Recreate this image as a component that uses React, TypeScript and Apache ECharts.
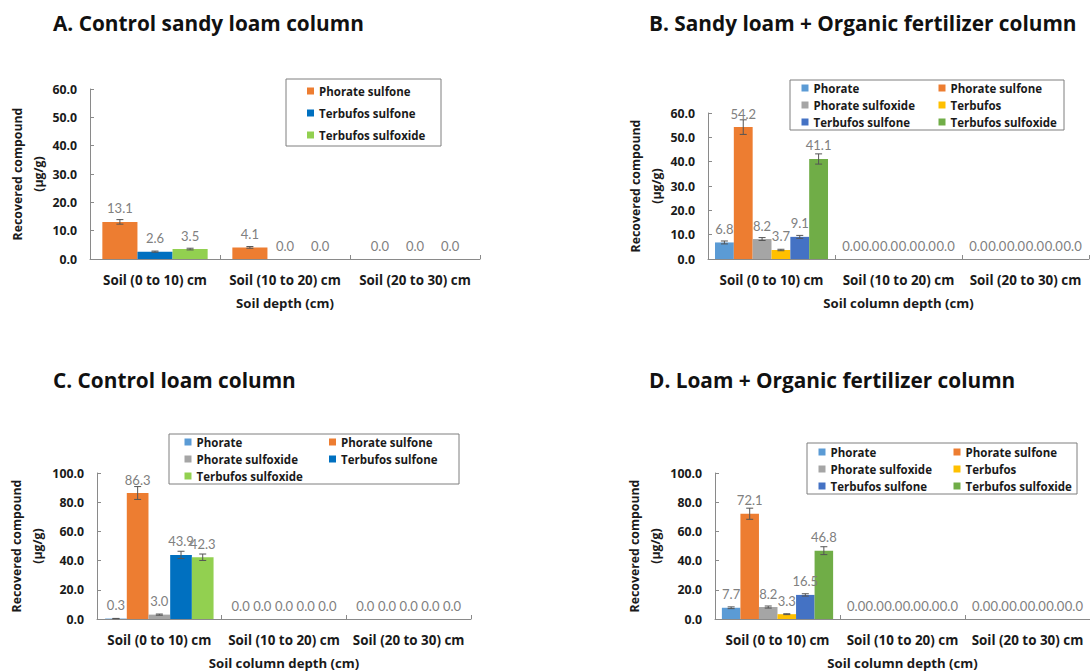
import React, { useEffect, useRef } from "react";
import * as echarts from "echarts";

const categories = ["Soil (0 to 10) cm", "Soil (10 to 20) cm", "Soil (20 to 30) cm"];

// Panel A – Control sandy loam column
const aTitle = "A. Control sandy loam column";
const aNames = ["Phorate sulfone", "Terbufos sulfone", "Terbufos sulfoxide"];
const aColors = ["#ED7D31", "#0070C0", "#92D050"];
const aValues = [
  [13.1, 4.1, 0.0],
  [2.6, 0.0, 0.0],
  [3.5, 0.0, 0.0],
];
const aErrors = [
  [0.8, 0.3, 0],
  [0.2, 0, 0],
  [0.3, 0, 0],
];

// Panel B – Sandy loam + Organic fertilizer column
const bTitle = "B. Sandy loam + Organic fertilizer column";
const bNames = ["Phorate", "Phorate sulfone", "Phorate sulfoxide", "Terbufos", "Terbufos sulfone", "Terbufos sulfoxide"];
const bColors = ["#5B9BD5", "#ED7D31", "#A5A5A5", "#FFC000", "#4472C4", "#70AD47"];
const bValues = [
  [6.8, 0.0, 0.0],
  [54.2, 0.0, 0.0],
  [8.2, 0.0, 0.0],
  [3.7, 0.0, 0.0],
  [9.1, 0.0, 0.0],
  [41.1, 0.0, 0.0],
];
const bErrors = [
  [0.6, 0, 0],
  [3.0, 0, 0],
  [0.6, 0, 0],
  [0.3, 0, 0],
  [0.6, 0, 0],
  [2.1, 0, 0],
];

// Panel C – Control loam column
const cTitle = "C. Control loam column";
const cNames = ["Phorate", "Phorate sulfone", "Phorate sulfoxide", "Terbufos sulfone", "Terbufos sulfoxide"];
const cColors = ["#5B9BD5", "#ED7D31", "#A5A5A5", "#0070C0", "#92D050"];
const cValues = [
  [0.3, 0.0, 0.0],
  [86.3, 0.0, 0.0],
  [3.0, 0.0, 0.0],
  [43.9, 0.0, 0.0],
  [42.3, 0.0, 0.0],
];
const cErrors = [
  [0.1, 0, 0],
  [4.4, 0, 0],
  [0.4, 0, 0],
  [2.5, 0, 0],
  [2.2, 0, 0],
];

// Panel D – Loam + Organic fertilizer column
const dTitle = "D. Loam + Organic fertilizer column";
const dNames = ["Phorate", "Phorate sulfone", "Phorate sulfoxide", "Terbufos", "Terbufos sulfone", "Terbufos sulfoxide"];
const dColors = ["#5B9BD5", "#ED7D31", "#A5A5A5", "#FFC000", "#4472C4", "#70AD47"];
const dValues = [
  [7.7, 0.0, 0.0],
  [72.1, 0.0, 0.0],
  [8.2, 0.0, 0.0],
  [3.3, 0.0, 0.0],
  [16.5, 0.0, 0.0],
  [46.8, 0.0, 0.0],
];
const dErrors = [
  [0.6, 0, 0],
  [3.8, 0, 0],
  [0.7, 0, 0],
  [0.3, 0, 0],
  [0.8, 0, 0],
  [2.7, 0, 0],
];

const yName = "Recovered compound\n(µg/g)";
const BOLD_FONT = "Open Sans";
const LABEL_FONT = "Lato";
const AXIS_COLOR = "#8a8a8a";
const TEXT_COLOR = "#1a1a1a";

type Panel = {
  key: string;
  title: string;
  titlePos: [number, number];
  names: string[];
  colors: string[];
  values: number[][];
  errors: number[][];
  max: number;
  interval: number;
  xName: string;
  grid: { left: number; top: number; width: number; height: number };
  gap: number;
  yNameGap: number;
  legendCols: number[][];
  legendPos: [number, number][];
  legendItemGap: number;
  box: [number, number, number, number];
};

const panels: Panel[] = [
  {
    key: "A", title: aTitle, titlePos: [53, 23], names: aNames, colors: aColors, values: aValues, errors: aErrors,
    max: 60, interval: 10, xName: "Soil depth (cm)",
    grid: { left: 90, top: 89, width: 390, height: 170 }, gap: 0.19, yNameGap: 38,
    legendCols: [[0, 1, 2]], legendPos: [[307, 84]], legendItemGap: 8, box: [286, 79, 155, 67],
  },
  {
    key: "B", title: bTitle, titlePos: [649, 23], names: bNames, colors: bColors, values: bValues, errors: bErrors,
    max: 60, interval: 10, xName: "Soil column depth (cm)",
    grid: { left: 708, top: 113, width: 381, height: 146 }, gap: 0.11, yNameGap: 41,
    legendCols: [[0, 2, 4], [1, 3, 5]], legendPos: [[801.5, 81], [938.5, 81]], legendItemGap: 3, box: [790, 80, 274, 50],
  },
  {
    key: "C", title: cTitle, titlePos: [53, 380], names: cNames, colors: cColors, values: cValues, errors: cErrors,
    max: 100, interval: 20, xName: "Soil column depth (cm)",
    grid: { left: 97, top: 473, width: 374, height: 146 }, gap: 0.13, yNameGap: 46,
    legendCols: [[0, 2, 4], [1, 3]], legendPos: [[184.5, 435], [329, 435]], legendItemGap: 3, box: [169, 434, 290, 50],
  },
  {
    key: "D", title: dTitle, titlePos: [649, 380], names: dNames, colors: dColors, values: dValues, errors: dErrors,
    max: 100, interval: 20, xName: "Soil column depth (cm)",
    grid: { left: 715, top: 473, width: 382, height: 146 }, gap: 0.11, yNameGap: 46,
    legendCols: [[0, 2, 4], [1, 3, 5]], legendPos: [[818.5, 445], [953.5, 445]], legendItemGap: 3, box: [807, 443, 270, 51],
  },
];

function buildOption() {
  const grid: any[] = [];
  const xAxis: any[] = [];
  const yAxis: any[] = [];
  const series: any[] = [];
  const legend: any[] = [];
  const graphic: any[] = [];

  panels.forEach((p, pi) => {
    grid.push({ ...p.grid, containLabel: false });
    xAxis.push({
      type: "category",
      gridIndex: pi,
      data: categories,
      name: p.xName,
      nameLocation: "middle",
      nameGap: 37,
      nameTextStyle: { fontFamily: BOLD_FONT, fontWeight: "bold", fontSize: 13.2, color: TEXT_COLOR },
      axisLine: { show: true, lineStyle: { color: AXIS_COLOR, width: 1 } },
      axisTick: { show: true, inside: true, length: 4, lineStyle: { color: AXIS_COLOR } },
      axisLabel: { margin: 14, fontFamily: BOLD_FONT, fontWeight: "bold", fontSize: 13.4, color: TEXT_COLOR, interval: 0 },
      splitLine: { show: false },
    });
    yAxis.push({
      type: "value",
      gridIndex: pi,
      min: 0,
      max: p.max,
      interval: p.interval,
      name: yName,
      nameLocation: "middle",
      nameGap: p.yNameGap,
      nameTextStyle: { fontFamily: BOLD_FONT, fontWeight: "bold", fontSize: 12.3, color: TEXT_COLOR, lineHeight: 21 },
      axisLine: { show: true, lineStyle: { color: AXIS_COLOR, width: 1 } },
      axisTick: { show: true, inside: true, length: 4, lineStyle: { color: AXIS_COLOR } },
      axisLabel: {
        margin: 13,
        fontFamily: BOLD_FONT,
        fontWeight: "bold",
        fontSize: 12.3,
        color: TEXT_COLOR,
        formatter: (v: number) => v.toFixed(1),
      },
      splitLine: { show: false },
    });

    const n = p.names.length;
    p.names.forEach((nm, si) => {
      series.push({
        type: "bar",
        name: `${p.key}|${nm}`,
        xAxisIndex: pi,
        yAxisIndex: pi,
        data: p.values[si],
        barGap: "0%",
        barCategoryGap: `${Math.round(p.gap * 100)}%`,
        itemStyle: { color: p.colors[si] },
        label: {
          show: true,
          position: "top",
          distance: 7,
          fontFamily: LABEL_FONT,
          fontSize: 13,
          color: "#808080",
          formatter: (d: any) => Number(d.value).toFixed(1),
        },
      });
    });

    const errData: number[][] = [];
    p.values.forEach((vals, si) => {
      vals.forEach((v, ci) => {
        errData.push([ci, v, p.errors[si][ci], si]);
      });
    });
    const gap = p.gap;
    series.push({
      type: "custom",
      xAxisIndex: pi,
      yAxisIndex: pi,
      silent: true,
      z: 5,
      encode: { x: 0, y: 1 },
      data: errData,
      renderItem: (params: any, api: any) => {
        const cat = api.value(0);
        const val = api.value(1);
        const err = api.value(2);
        const si = api.value(3);
        if (!err) return null;
        const c = api.coord([cat, val]);
        const band = api.size([1, 0])[0];
        const group = band * (1 - gap);
        const bw = group / n;
        const x = c[0] - group / 2 + (si + 0.5) * bw;
        const top = api.coord([cat, val + err])[1];
        const bot = api.coord([cat, Math.max(0, val - err)])[1];
        const cap = 3.5;
        const st = { stroke: "#555555", lineWidth: 1 };
        return {
          type: "group",
          children: [
            { type: "line", shape: { x1: x, y1: top, x2: x, y2: bot }, style: st },
            { type: "line", shape: { x1: x - cap, y1: top, x2: x + cap, y2: top }, style: st },
            { type: "line", shape: { x1: x - cap, y1: bot, x2: x + cap, y2: bot }, style: st },
          ],
        };
      },
    });

    p.legendCols.forEach((col, li) => {
      legend.push({
        orient: "vertical",
        left: p.legendPos[li][0],
        top: p.legendPos[li][1],
        padding: 0,
        itemGap: p.legendItemGap,
        itemWidth: 7,
        itemHeight: 7,
        icon: "rect",
        selectedMode: false,
        data: col.map((i) => `${p.key}|${p.names[i]}`),
        formatter: (name: string) => name.split("|")[1],
        textStyle: { fontFamily: BOLD_FONT, fontWeight: "bold", fontSize: 11.5, color: TEXT_COLOR, lineHeight: 14 },
      });
    });

    graphic.push({
      type: "rect",
      shape: { x: p.box[0], y: p.box[1], width: p.box[2], height: p.box[3] },
      style: { fill: "none", stroke: "#7f7f7f", lineWidth: 1 },
      z: 0,
    });
    graphic.push({
      type: "text",
      x: p.titlePos[0],
      y: p.titlePos[1],
      style: {
        text: p.title,
        fontFamily: BOLD_FONT,
        fontWeight: "bold",
        fontSize: 20.8,
        fill: "#111111",
        textVerticalAlign: "middle",
        textAlign: "left",
      },
    });
  });

  return { animation: false, backgroundColor: "#ffffff", grid, xAxis, yAxis, series, legend, graphic };
}

export default function App() {
  const ref = useRef<HTMLDivElement>(null);
  useEffect(() => {
    if (!ref.current) return;
    const chart = echarts.init(ref.current, undefined, { renderer: "svg" });
    chart.setOption(buildOption() as any);
    return () => chart.dispose();
  }, []);
  return (
    <div
      ref={ref}
      style={{ position: "absolute", left: 0, top: 0, width: 1090, height: 672, background: "#fff" }}
    />
  );
}
